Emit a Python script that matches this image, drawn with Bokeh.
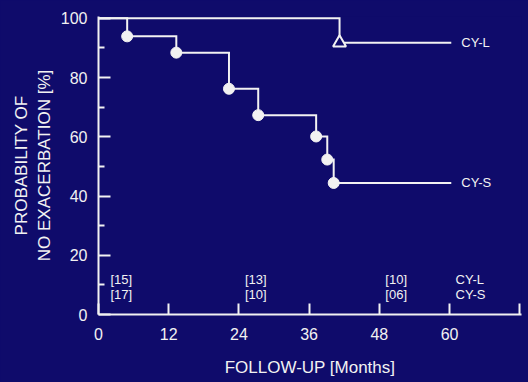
from bokeh.plotting import figure
from bokeh.models import FixedTicker, Range1d, GlobalInlineStyleSheet
from bokeh.core.properties import value
from bokeh.embed import file_html
from bokeh.resources import INLINE

# ---- data ----
cys_months = [0, 4.9, 13.3, 22.3, 27.3, 37.2, 39.1, 40.2]
cys_prob = [100, 93.9, 88.4, 76.2, 67.3, 60.1, 52.3, 44.4]
cyl_months = [0, 41.2]
cyl_prob = [100, 91.7]
last_followup = 60.3

x_ticks = [0, 12, 24, 36, 48, 60, 72]
y_ticks = [0, 20, 40, 60, 80, 100]
y_minor = [10, 30, 50, 70, 90]

risk_months = [0, 24, 48, 60]
risk_cyl = ["[15]", "[13]", "[10]", "CY-L"]
risk_cys = ["[17]", "[10]", "[06]", "CY-S"]

# ---- style ----
BG = "#0f0b6b"
FG = "#f2f2f2"
FONT = "Liberation Sans"

p = figure(width=528, height=382, output_backend="svg", toolbar_location=None,
           x_range=Range1d(0, 72.3), y_range=Range1d(0, 100.6),
           min_border_left=98, min_border_right=7, min_border_top=16, min_border_bottom=68)
p.stylesheets = [GlobalInlineStyleSheet(css="body{background:%s;}" % BG)]
p.background_fill_color = BG
p.border_fill_color = BG
p.outline_line_color = None
p.grid.visible = False

for ax in (p.xaxis[0], p.yaxis[0]):
    ax.axis_line_color = FG
    ax.axis_line_width = 2
    ax.major_tick_line_color = FG
    ax.major_tick_line_width = 2
    ax.minor_tick_line_color = FG
    ax.minor_tick_line_width = 2
    ax.major_tick_out = 0
    ax.minor_tick_out = 0
    ax.major_label_text_color = FG
    ax.major_label_text_font = FONT
    ax.major_label_text_font_size = "16px"
    ax.axis_label_text_color = FG
    ax.axis_label_text_font = FONT
    ax.axis_label_text_font_style = "normal"
    ax.axis_label_text_font_size = "17px"

xa = p.xaxis[0]
xa.ticker = FixedTicker(ticks=x_ticks)
xa.major_label_overrides = {72: ""}
xa.major_tick_in = 11
xa.minor_tick_line_color = None
xa.major_label_standoff = 13
xa.axis_label = "FOLLOW-UP [Months]"
xa.axis_label_standoff = 15

ya = p.yaxis[0]
ya.ticker = FixedTicker(ticks=y_ticks, minor_ticks=y_minor)
ya.major_tick_in = 12
ya.minor_tick_in = 6
ya.major_label_standoff = 11
ya.axis_label = "PROBABILITY OF\nNO EXACERBATION [%]"
ya.axis_label_standoff = 4

# step curves
p.step(cyl_months + [last_followup], cyl_prob + [cyl_prob[-1]], mode="after",
       line_color=FG, line_width=2, line_join="miter")
p.step(cys_months + [last_followup], cys_prob + [cys_prob[-1]], mode="after",
       line_color=FG, line_width=2, line_join="miter")

# event markers
p.scatter(cys_months[1:], cys_prob[1:], marker="circle", size=11,
          fill_color=FG, line_color=FG)
p.scatter(cyl_months[1:], cyl_prob[1:], marker="triangle", size=13,
          fill_color=BG, line_color=FG, line_width=2)

# curve labels
p.text([last_followup, last_followup], [cyl_prob[-1], cys_prob[-1]], text=["CY-L", "CY-S"],
       text_font=value(FONT), text_font_size="13px", text_color=FG,
       text_baseline="middle", text_align="left", x_offset=10)

# numbers at risk
row1_y, row2_y = 11.8, 6.8
offs = [12, 6, 6, 6]
p.text(risk_months, [row1_y] * len(risk_months), text=risk_cyl, x_offset=offs,
       text_font=value(FONT), text_font_size="13px", text_color=FG,
       text_baseline="middle", text_align="left")
p.text(risk_months, [row2_y] * len(risk_months), text=risk_cys, x_offset=offs,
       text_font=value(FONT), text_font_size="13px", text_color=FG,
       text_baseline="middle", text_align="left")

open("out.html", "w").write(file_html(p, INLINE))
